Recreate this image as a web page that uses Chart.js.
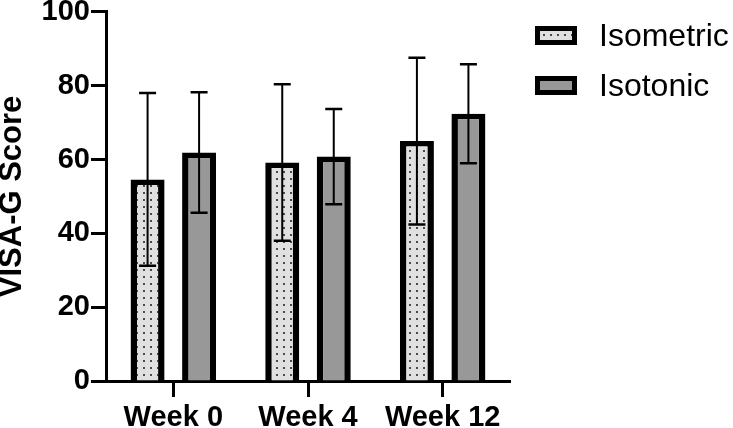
<!DOCTYPE html>
<html>
<head>
<meta charset="utf-8">
<script src="https://cdn.jsdelivr.net/npm/chart.js@4.4.1/dist/chart.umd.min.js"></script>
<style>
  body { margin: 0; background: #fff; }
  #wrap { position: relative; width: 733px; height: 428px; }
  #legend {
    position: absolute; left: 535px; top: 10px;
    font-family: 'Liberation Sans', Arial, sans-serif; font-size: 32px; color: #000;
  }
  .item { display: flex; align-items: center; height: 50px; }
  .swatch { width: 42px; height: 19px; box-sizing: border-box; border: 5px solid #000; margin-right: 22px; }
</style>
</head>
<body>
<div id="wrap">
  <canvas id="visaChart" width="733" height="428"></canvas>
  <div id="legend"></div>
</div>
<script>
// data (mean and SD)
const weeks = ['Week 0', 'Week 4', 'Week 12'];
const isometricMean = [54.6, 59.2, 65.0];
const isometricSD = [23.4, 21.2, 22.6];
const isotonicMean = [61.9, 60.8, 72.4];
const isotonicSD = [16.3, 12.9, 13.4];
const yMin = 0, yMax = 100, yStep = 20;

Chart.defaults.font.family = "'Liberation Sans', Arial, sans-serif";
Chart.defaults.color = '#000';

// dotted fill for the isometric bars
const tile = document.createElement('canvas');
tile.width = 7; tile.height = 7;
const tctx = tile.getContext('2d');
tctx.fillStyle = '#e0e0e0';
tctx.fillRect(0, 0, 7, 7);
tctx.fillStyle = '#4a4a4a';
tctx.fillRect(3, 3, 2, 2);

const ctx = document.getElementById('visaChart').getContext('2d');
const dots = ctx.createPattern(tile, 'repeat');

// draws mean +/- SD whiskers on top of the bars
const errorBars = {
  id: 'errorBars',
  afterDatasetsDraw(chart) {
    const c = chart.ctx;
    const y = chart.scales.y;
    c.save();
    c.strokeStyle = '#000';
    chart.data.datasets.forEach((ds, i) => {
      chart.getDatasetMeta(i).data.forEach((bar, j) => {
        const top = y.getPixelForValue(ds.data[j] + ds.sd[j]);
        const bottom = y.getPixelForValue(ds.data[j] - ds.sd[j]);
        c.lineWidth = 2;
        c.beginPath();
        c.moveTo(bar.x, top);
        c.lineTo(bar.x, bottom);
        c.stroke();
        c.lineWidth = 2.5;
        c.beginPath();
        c.moveTo(bar.x - 8.5, top); c.lineTo(bar.x + 8.5, top);
        c.moveTo(bar.x - 8.5, bottom); c.lineTo(bar.x + 8.5, bottom);
        c.stroke();
      });
    });
    c.restore();
  }
};

const barBorder = { top: 5.5, left: 6.5, right: 6.5, bottom: 0 };

const chart = new Chart(ctx, {
  type: 'bar',
  data: {
    labels: weeks,
    datasets: [
      {
        label: 'Isometric',
        data: isometricMean,
        sd: isometricSD,
        backgroundColor: dots,
        borderColor: '#000',
        borderWidth: barBorder
      },
      {
        label: 'Isotonic',
        data: isotonicMean,
        sd: isotonicSD,
        backgroundColor: '#989898',
        borderColor: '#000',
        borderWidth: barBorder
      }
    ]
  },
  options: {
    responsive: false,
    animation: false,
    categoryPercentage: 0.765,
    barPercentage: 0.66,
    layout: { padding: { right: 223 } },
    plugins: {
      legend: { display: false },
      tooltip: { enabled: false }
    },
    scales: {
      x: {
        offset: true,
        z: 1,
        grid: { drawOnChartArea: false, offset: false, tickLength: 16, tickWidth: 3, color: '#000' },
        border: { display: true, width: 3, color: '#000' },
        ticks: { font: { size: 29, weight: 'bold' }, padding: 4 },
        afterFit: s => { s.height = 47; }
      },
      y: {
        min: yMin,
        max: yMax,
        ticks: { stepSize: yStep, font: { size: 29, weight: 'bold', lineHeight: 0.75 }, padding: 1 },
        grid: { drawOnChartArea: false, tickLength: 15, tickWidth: 3, color: '#000' },
        border: { display: true, width: 3, color: '#000' },
        title: {
          display: true,
          text: 'VISA-G Score',
          font: { size: 31, weight: 'bold', lineHeight: 0.8 },
          padding: { top: 0, bottom: 0 }
        },
        afterFit: s => { s.width = 106; }
      }
    }
  },
  plugins: [errorBars]
});

// legend built from the datasets
const legendEl = document.getElementById('legend');
chart.data.datasets.forEach(ds => {
  const item = document.createElement('div');
  item.className = 'item';
  const sw = document.createElement('span');
  sw.className = 'swatch';
  if (ds.backgroundColor === dots) {
    sw.style.backgroundColor = '#e0e0e0';
    sw.style.backgroundImage = `url(${tile.toDataURL()})`;
  } else {
    sw.style.backgroundColor = ds.backgroundColor;
  }
  const txt = document.createElement('span');
  txt.textContent = ds.label;
  item.appendChild(sw);
  item.appendChild(txt);
  legendEl.appendChild(item);
});
</script>
</body>
</html>
